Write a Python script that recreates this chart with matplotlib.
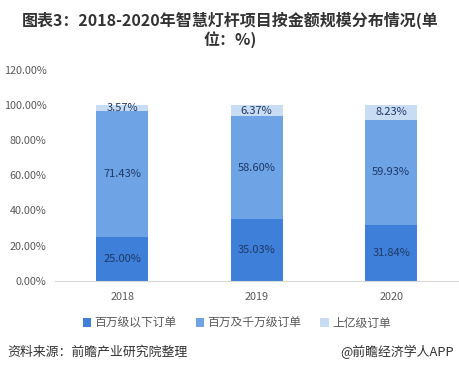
import numpy as np
import matplotlib
matplotlib.use("Agg")
import matplotlib.pyplot as plt
from matplotlib.patches import Patch

plt.rcParams['font.family'] = ['Noto Sans CJK SC', 'DejaVu Sans']

# *
# Data
# *
years     = ["2018", "2019", "2020"]
below_1m  = [25.00, 35.03, 31.84]
m_to_10m  = [71.43, 58.60, 59.93]
above_100m = [3.57, 6.37, 8.23]
series_names = ["百万级以下订单", "百万及千万级订单", "上亿级订单"]
colors = ["#3d7fd9", "#6ea3e6", "#c8dcf4"]

# *
# Figure
# *
fig = plt.figure(figsize=(4.6, 3.73), dpi=100)
ax = fig.add_axes([0.1196, 0.2475, 0.877, 0.565])

x = np.arange(len(years))
width = 0.39
bottom = np.zeros(len(years))
for vals, col in zip([below_1m, m_to_10m, above_100m], colors):
    vals = np.array(vals)
    ax.bar(x, vals, width, bottom=bottom, color=col, zorder=2)
    for xi, b, v in zip(x, bottom, vals):
        ax.text(xi, b + v / 2, "{:.2f}%".format(v), ha="center", va="center",
                fontsize=8, color="#1f3864", zorder=3)
    bottom = bottom + vals

ax.set_xlim(-0.5, 2.5)
ax.set_ylim(0, 120)
ax.set_xticks(x)
ax.set_xticklabels(years)
ax.set_yticks(np.arange(0, 121, 20))
ax.set_yticklabels(["{:.2f}%".format(v) for v in np.arange(0, 121, 20)])
ax.tick_params(length=0, labelsize=7.8, labelcolor="#595959")
ax.tick_params(axis="x", pad=8)
ax.tick_params(axis="y", pad=6)
for s in ["top", "right", "left"]:
    ax.spines[s].set_visible(False)
ax.spines["bottom"].set_color("#d9d9d9")

# title
fig.text(0.5, 0.945, "图表3：2018-2020年智慧灯杆项目按金额规模分布情况(单",
         ha="center", va="center", fontsize=11.5, fontweight="bold", color="#333333")
fig.text(0.5, 0.893, "位：%)", ha="center", va="center", fontsize=11.5,
         fontweight="bold", color="#333333")

# legend
handles = [Patch(facecolor=c, edgecolor="none") for c in colors]
fig.legend(handles, series_names, loc="center", bbox_to_anchor=(0.515, 0.134),
           ncol=3, frameon=False, fontsize=8.5, labelcolor="#595959",
           handlelength=0.7, handleheight=0.7, handletextpad=0.3, columnspacing=1.6)

# footer
fig.text(0.017, 0.056, "资料来源：前瞻产业研究院整理", ha="left", va="center",
         fontsize=9.3, color="#333333")
fig.text(0.739, 0.056, "@前瞻经济学人APP", ha="left", va="center",
         fontsize=9.3, color="#333333")

fig.savefig("out.png", dpi=100)
